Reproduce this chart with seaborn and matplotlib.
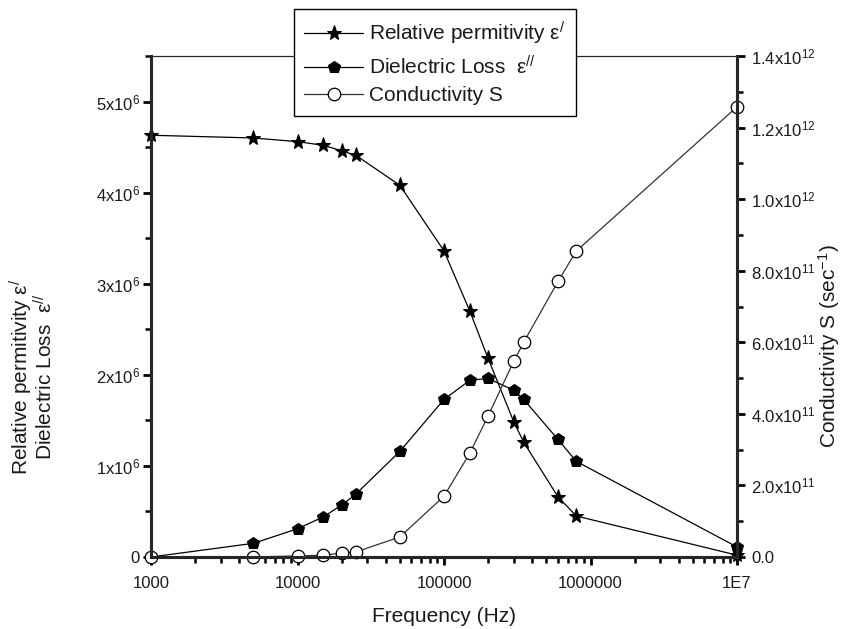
import numpy as np
import pandas as pd
import matplotlib
matplotlib.use("Agg")
import matplotlib.pyplot as plt
import seaborn as sns
from matplotlib.ticker import FixedLocator, FixedFormatter, LogLocator, NullFormatter, MultipleLocator

# values
freq = [1000, 5000, 10000, 15000, 20000, 25000, 50000, 100000, 150000,
        200000, 300000, 350000, 600000, 800000, 10000000]
permittivity = [4.63, 4.60, 4.56, 4.52, 4.46, 4.41, 4.08, 3.36, 2.70,
                2.18, 1.48, 1.26, 0.66, 0.45, 0.02]          # x10^6
loss = [0.0, 0.15, 0.31, 0.44, 0.57, 0.69, 1.16, 1.73, 1.94,
        1.96, 1.83, 1.73, 1.29, 1.05, 0.11]                  # x10^6
conductivity = [0.0, 0.0, 0.003, 0.005, 0.011, 0.014, 0.056, 0.17, 0.29,
                0.394, 0.548, 0.60, 0.77, 0.855, 1.258]      # x10^12

x_ticks = [1e3, 1e4, 1e5, 1e6, 1e7]
x_ticklabels = ["1000", "10000", "100000", "1000000", "1E7"]
left_ticks = [0, 1e6, 2e6, 3e6, 4e6, 5e6]
left_ticklabels = ["0", "1x10$^6$", "2x10$^6$", "3x10$^6$", "4x10$^6$", "5x10$^6$"]
right_ticks = [0, 0.2e12, 0.4e12, 0.6e12, 0.8e12, 1.0e12, 1.2e12, 1.4e12]
right_ticklabels = ["0.0", "2.0x10$^{11}$", "4.0x10$^{11}$", "6.0x10$^{11}$",
                    "8.0x10$^{11}$", "1.0x10$^{12}$", "1.2x10$^{12}$", "1.4x10$^{12}$"]

df = pd.DataFrame({
    "freq": freq,
    "perm": np.array(permittivity) * 1e6,
    "loss": np.array(loss) * 1e6,
    "cond": np.array(conductivity) * 1e12,
})

sns.set_style("ticks")
plt.rcParams["font.family"] = ["Liberation Sans", "DejaVu Sans"]
plt.rcParams["mathtext.default"] = "regular"
plt.rcParams["mathtext.fontset"] = "custom"
plt.rcParams["mathtext.rm"] = "Liberation Sans"

txt = "#1a1a1a"
fig = plt.figure(figsize=(8.48, 6.29), dpi=100)
ax = fig.add_axes([151 / 848, 1 - 557 / 629, (737 - 151) / 848, (557 - 56) / 629])
ax2 = ax.twinx()

sns.lineplot(data=df, x="freq", y="perm", ax=ax, color="black", lw=0.9,
             marker="*", markersize=11, markeredgecolor="black",
             label="Relative permitivity $\\varepsilon^{/}$", sort=False,
             errorbar=None, clip_on=False, legend=False)
sns.lineplot(data=df, x="freq", y="loss", ax=ax, color="black", lw=0.9,
             marker="p", markersize=9, markeredgecolor="black",
             label="Dielectric Loss  $\\varepsilon^{//}$", sort=False,
             errorbar=None, clip_on=False, legend=False)
sns.lineplot(data=df, x="freq", y="cond", ax=ax2, color="#333333", lw=0.9,
             marker="o", markersize=9, markerfacecolor="white",
             markeredgecolor="black", markeredgewidth=0.9,
             label="Conductivity S", sort=False,
             errorbar=None, clip_on=False, legend=False)

ax.set_xscale("log")
ax.set_xlim(1e3, 1e7)
ax.set_ylim(0, 5.5e6)
ax2.set_ylim(0, 1.4e12)

ax.xaxis.set_major_locator(FixedLocator(x_ticks))
ax.xaxis.set_major_formatter(FixedFormatter(x_ticklabels))
ax.xaxis.set_minor_locator(LogLocator(base=10, subs=np.arange(2, 10)))
ax.xaxis.set_minor_formatter(NullFormatter())
ax.yaxis.set_major_locator(FixedLocator(left_ticks))
ax.yaxis.set_major_formatter(FixedFormatter(left_ticklabels))
ax.yaxis.set_minor_locator(MultipleLocator(0.5e6))
ax2.yaxis.set_major_locator(FixedLocator(right_ticks))
ax2.yaxis.set_major_formatter(FixedFormatter(right_ticklabels))
ax2.yaxis.set_minor_locator(MultipleLocator(0.1e12))

for a in (ax, ax2):
    a.tick_params(which="major", direction="out", length=6, width=2,
                  labelsize=12, colors="black", labelcolor=txt)
    a.tick_params(which="minor", direction="out", length=4, width=1.8, colors="black")
    for side in ("left", "bottom", "right"):
        a.spines[side].set_linewidth(2.2)
        a.spines[side].set_visible(True)
    a.spines["top"].set_linewidth(0.8)
    a.spines["top"].set_visible(True)
ax.tick_params(axis="x", pad=8)
ax.tick_params(axis="y", pad=2)
ax2.tick_params(axis="y", pad=4)

ax.set_xlabel("Frequency (Hz)", fontsize=15, color=txt)
ax.xaxis.set_label_coords(0.5, -0.10)
ax.set_ylabel("Relative permitivity $\\varepsilon^{/}$\nDielectric Loss  $\\varepsilon^{//}$",
              fontsize=15, color=txt, linespacing=0.9)
ax.yaxis.set_label_coords(-0.162, 0.36)
ax2.set_ylabel("Conductivity S (sec$^{-1}$)", fontsize=15, color=txt)
ax2.yaxis.set_label_coords(1.135, 0.42)

handles = ax.get_lines()[:2] + ax2.get_lines()[:1]
labels = [h.get_label() for h in handles]
leg = ax2.legend(handles, labels, loc="upper left", bbox_to_anchor=(294 / 848, 1 - 9 / 629),
                 bbox_transform=fig.transFigure, fontsize=15, frameon=True, fancybox=False,
                 edgecolor="black", framealpha=1, borderpad=0.5, handlelength=2.8,
                 handletextpad=0.3, labelspacing=0.4, borderaxespad=0)
leg.get_frame().set_linewidth(1.0)
for t in leg.get_texts():
    t.set_color(txt)

fig.savefig("out.png", dpi=100)
